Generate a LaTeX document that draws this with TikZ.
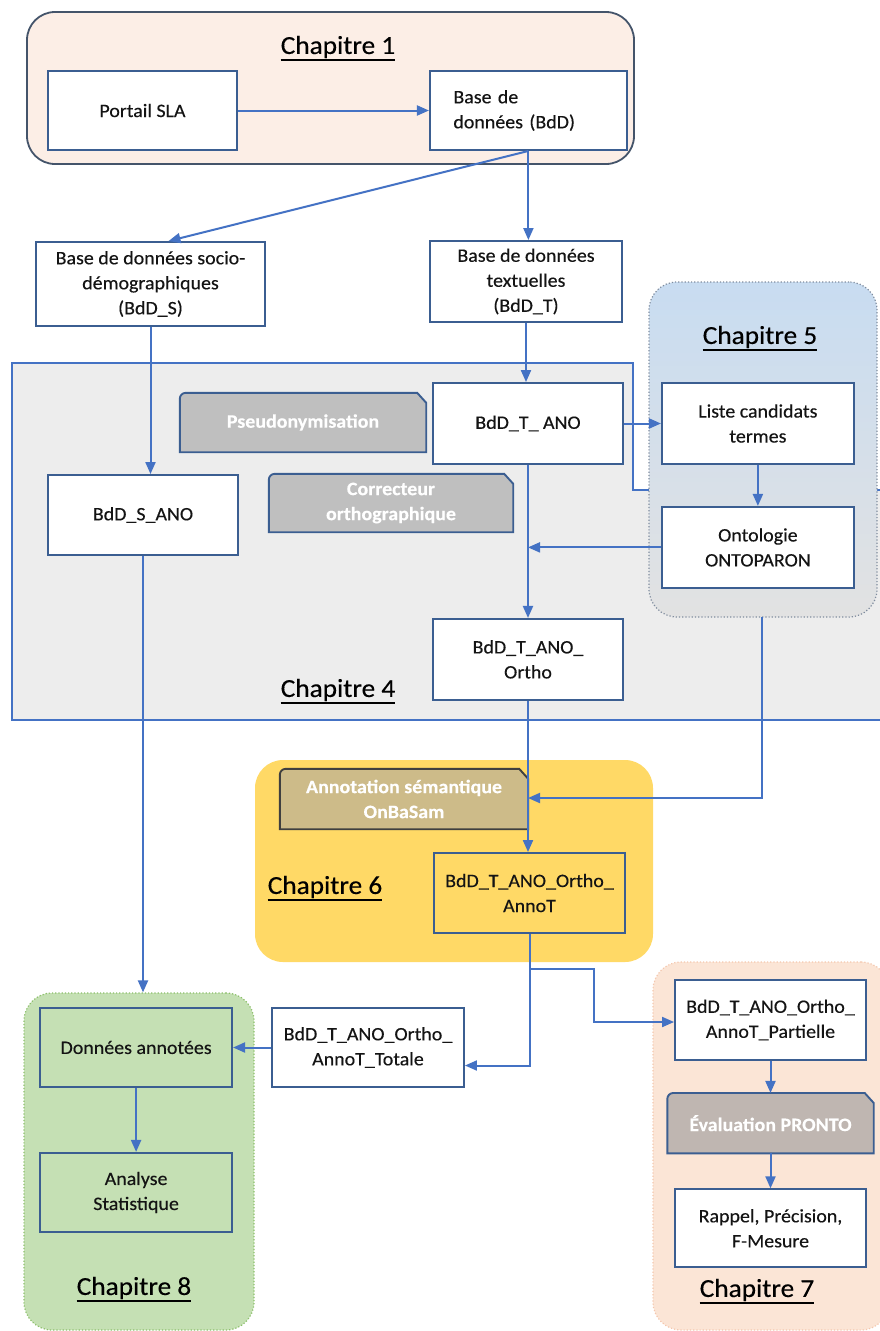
\documentclass[tikz,border=0pt]{standalone}
\usepackage{fontspec}
\setmainfont{Carlito}[FakeStretch=1.05, FakeBold=0.3]
\usetikzlibrary{arrows.meta,positioning}

\definecolor{boxline}{HTML}{3B5E91}
\definecolor{arrowblue}{HTML}{4472C4}
\definecolor{peach}{HTML}{FCEEE6}
\definecolor{chapline}{HTML}{44546A}
\definecolor{greybg}{HTML}{EDEDED}
\definecolor{bluetop}{HTML}{C8DCF1}
\definecolor{greybot}{HTML}{E2E2E2}
\definecolor{cfiveline}{HTML}{7F8C9E}
\definecolor{gold}{HTML}{FFD966}
\definecolor{onbasamfill}{HTML}{CDBB89}
\definecolor{tagdark}{HTML}{3F3F3F}
\definecolor{taggrey}{HTML}{BFBFBF}
\definecolor{prontogrey}{HTML}{BFB6B1}
\definecolor{salmon}{HTML}{FBE5D6}
\definecolor{salmonline}{HTML}{F4C7AE}
\definecolor{leaf}{HTML}{C5E0B4}
\definecolor{leafline}{HTML}{8CBF6A}
\definecolor{textdark}{HTML}{141414}

\pgfdeclarelayer{back}
\pgfdeclarelayer{shade}
\pgfsetlayers{back,shade,main}

\tikzset{
  link/.style={draw=arrowblue, line width=2pt},
  box/.style={draw=boxline, line width=1.9pt, fill=white, inner sep=0pt, align=center,
    minimum width=190pt, minimum height=80pt, text=textdark,
    font=\fontsize{19}{25}\selectfont},
  tag/.style 2 args={inner sep=0pt, align=center, text=white,
    font=\bfseries\fontsize{19}{25}\selectfont,
    append after command={\pgfextra{\begin{pgfonlayer}{shade}
      \draw[-, line width=1.9pt, draw=#2, fill=#1]
        (\tikzlastnode.south west) -- ([yshift=-6pt]\tikzlastnode.north west)
        arc[start angle=180, end angle=90, radius=6pt]
        -- ([xshift=-9pt]\tikzlastnode.north east)
        -- ([yshift=-10pt]\tikzlastnode.north east)
        -- (\tikzlastnode.south east) -- cycle;
      \end{pgfonlayer}}}},
  chapbox/.style={rounded corners=28pt, inner sep=0pt},
  title/.style={inner sep=0pt, text=black, font=\fontsize{26}{30}\selectfont,
    append after command={([yshift=-6pt]\tikzlastnode.base west)
      edge[-, draw=black, line width=2.4pt] ([yshift=-6pt]\tikzlastnode.base east)}}
}

\begin{document}
\begin{tikzpicture}[->, >={Triangle[length=12pt,width=10pt]}, x=1pt, y=-1pt,
    every edge/.style={link}]
  \useasboundingbox (0,0) rectangle (879,1331);

  % chapter areas
  \begin{pgfonlayer}{back}
  \draw[-, fill=greybg, draw=arrowblue, line width=1.6pt]
    (12,363) -- (633,363) -- (633,490) -- (885,490) -- (885,720) -- (12,720) -- cycle;
  \node[chapbox, draw=chapline, line width=1.8pt, fill=peach,
    minimum width=607pt, minimum height=152pt] (c1) at (330.5,88) {};
  \node[chapbox, draw=cfiveline, dotted, line width=1.2pt, top color=bluetop,
    middle color=white, bottom color=greybot,
    minimum width=228pt, minimum height=335pt] (c5) at (763,449.5) {};
  \node[chapbox, fill=gold, minimum width=398pt, minimum height=202pt] (c6) at (454,861) {};
  \node[chapbox, draw=salmonline, dotted, line width=1.2pt, fill=salmon,
    minimum width=236pt, minimum height=368pt] (c7) at (771,1146) {};
  \node[chapbox, draw=leafline, dotted, line width=1.2pt, fill=leaf,
    minimum width=230pt, minimum height=337pt] (c8) at (139,1161.5) {};
  \end{pgfonlayer}

  \node[title] (t1) at (338,47)   {Chapitre 1};
  \node[title] (t4) at (338,690)  {Chapitre 4};
  \node[title] (t5) at (760,337)  {Chapitre 5};
  \node[title] (t6) at (325,887)  {Chapitre 6};
  \node[title] (t7) at (757,1290) {Chapitre 7};
  \node[title] (t8) at (134,1288) {Chapitre 8};

  % data boxes
  \node[box, minimum width=189pt, minimum height=79pt] (portail) at (142.5,110.5) {Portail SLA};
  \node[box, minimum width=197pt, minimum height=79pt, text width=150pt, align=left]
    (bdd) [right=191pt of portail] {Base de\\données (BdD)};
  \node[box, minimum width=229pt, minimum height=84pt] (bdds) at (150.5,284)
    {Base de données socio-\\démographiques\\(BdD\_S)};
  \node[box, minimum width=192pt, minimum height=81pt] (bddt) at (526,281.5)
    {Base de données\\textuelles\\(BdD\_T)};
  \node[box] (sano) at (143,515) {BdD\_S\_ANO};
  \node[box, minimum height=81pt] (tano) at (528,423.5) {BdD\_T\_ ANO};
  \node[box, minimum width=192pt, minimum height=81pt] (liste) [right=37pt of tano]
    {Liste candidats\\termes};
  \node[box, minimum width=192pt, minimum height=81pt] (onto) [below=41pt of liste]
    {Ontologie\\ONTOPARON};
  \node[box, minimum height=81pt] (ortho) [below=153pt of tano] {BdD\_T\_ANO\_\\Ortho};
  \node[box, fill=gold, minimum width=191pt] (annot) at (529.5,893)
    {BdD\_T\_ANO\_Ortho\_\\AnnoT};
  \node[box, minimum width=192pt, minimum height=79pt] (totale) at (368,1047.5)
    {BdD\_T\_ANO\_Ortho\_\\AnnoT\_Totale};
  \node[box, fill=leaf, minimum width=192pt, minimum height=79pt] (donnees)
    [left=38pt of totale] {Données annotées};
  \node[box, fill=leaf, minimum width=192pt, minimum height=79pt] (analyse)
    [below=64pt of donnees] {Analyse\\Statistique};
  \node[box, minimum width=191pt] (partielle) at (770.5,1020)
    {BdD\_T\_ANO\_Ortho\_\\AnnoT\_Partielle};

  % processing steps
  \node[tag={taggrey}{boxline}, minimum width=246pt, minimum height=59pt]
    (pseudo) at (303,422.5) {Pseudonymisation};
  \node[tag={taggrey}{boxline}, minimum width=244pt, minimum height=58pt]
    (correcteur) at (391,503) {Correcteur\\orthographique};
  \node[tag={onbasamfill}{tagdark}, minimum width=248pt, minimum height=60pt]
    (onbasam) at (404,799) {Annotation sémantique\\OnBaSam};
  \node[tag={prontogrey}{boxline}, minimum width=206pt, minimum height=60pt]
    (pronto) [below=32pt of partielle] {Évaluation PRONTO};
  \node[box, minimum width=191pt, minimum height=78pt] (rappel) [below=35pt of pronto]
    {Rappel, Précision,\\F-Mesure};

  \coordinate (c5out) at (762,617);
  \coordinate (j6)    at (528,798);
  \coordinate (fork)  at (529.5,969);
  \coordinate (bend)  at (594,1022);

  \path (portail)    edge (bdd)
        (bdd.south)  edge ([xshift=18pt]bdds.north)
        (bdd.south)  edge (bdd.south |- bddt.north)
        (bdds.south) edge (bdds.south |- sano.north)
        (bddt.south) edge (bddt.south |- tano.north)
        (tano)       edge (liste)
        (liste)      edge (onto)
        (tano)       edge (ortho)
        (onto)       edge (tano.south |- onto.west)
        (ortho.south) edge (ortho.south |- annot.north)
        (sano.south) edge (sano.south |- c8.north)
        (totale)     edge (donnees)
        (donnees)    edge (analyse)
        (partielle)  edge (pronto)
        (pronto)     edge (rappel);

  \draw[link] (c5out) |- (j6);
  \draw[link] (annot.south) |- ([yshift=-18pt]totale.east);
  \draw[link] (fork) -| (bend) -- (bend -| partielle.west);
\end{tikzpicture}
\end{document}
